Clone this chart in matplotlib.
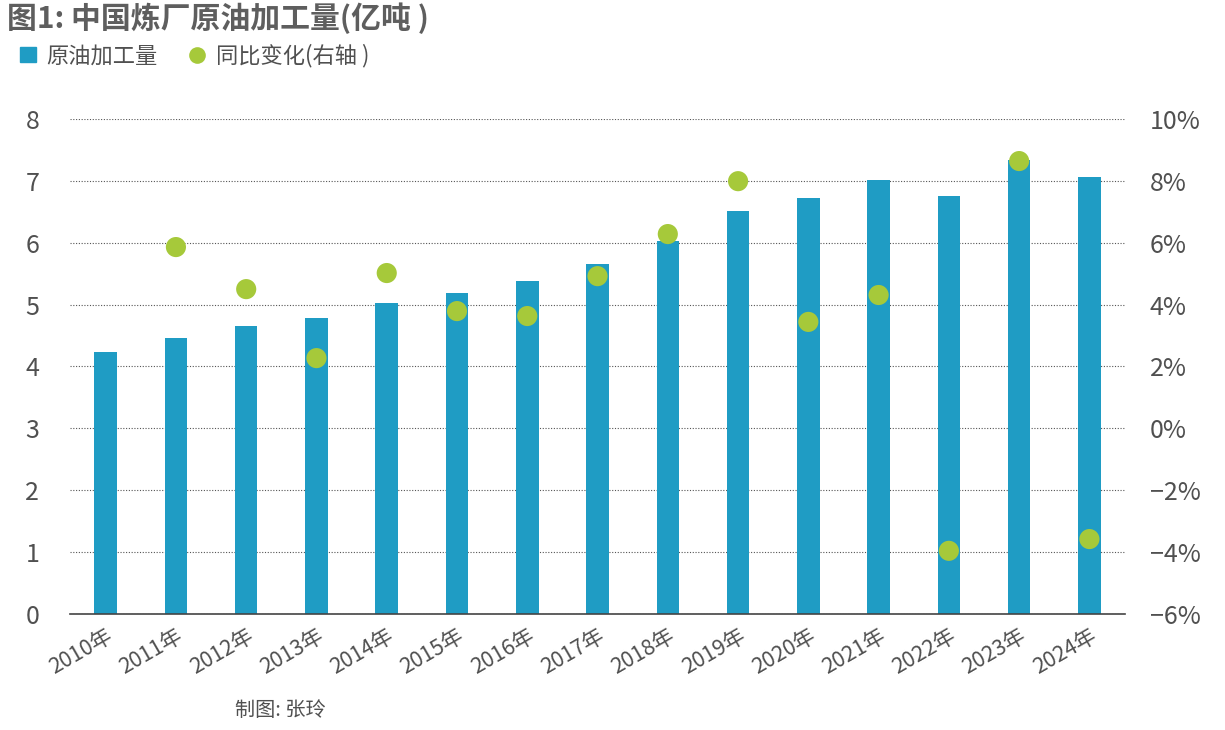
import numpy as np
import matplotlib.pyplot as plt
from matplotlib.lines import Line2D
from matplotlib.patches import Patch

plt.rcParams['font.family'] = ['Noto Sans CJK SC', 'DejaVu Sans']

years = ['2010年', '2011年', '2012年', '2013年', '2014年', '2015年', '2016年', '2017年',
         '2018年', '2019年', '2020年', '2021年', '2022年', '2023年', '2024年']
output = [4.23, 4.46, 4.65, 4.78, 5.02, 5.19, 5.38, 5.65,
          6.03, 6.51, 6.72, 7.01, 6.75, 7.34, 7.06]
# first year has no yoy point
yoy = [np.nan, 5.86, 4.50, 2.27, 5.02, 3.79, 3.63, 4.92,
       6.28, 7.99, 3.44, 4.31, -3.96, 8.64, -3.58]

bar_color = '#1f9cc4'
dot_color = '#a6c93a'
text_color = '#505050'

fig = plt.figure(figsize=(12.25, 7.3), dpi=100)
ax = fig.add_axes([0.057, 0.159, 0.861, 0.678])
ax2 = ax.twinx()

x = np.arange(len(years))
ax.bar(x, output, width=0.32, color=bar_color, zorder=2)
ax2.scatter(x, yoy, s=210, color=dot_color, zorder=3, edgecolors='none')

ax.set_xlim(-0.51, len(years) - 0.5)
ax.set_ylim(0, 8)
ax2.set_ylim(-6, 10)
ax.set_yticks(range(0, 9))
ax2.set_yticks(range(-6, 11, 2))
ax2.set_yticklabels([f'{v}%'.replace('-', '\u2212') for v in range(-6, 11, 2)])

ax.grid(axis='y', linestyle=(0, (1, 1.5)), color='#555555', linewidth=0.8, zorder=0)
ax.set_axisbelow(True)

for a in (ax, ax2):
    for s in a.spines.values():
        s.set_visible(False)
    a.tick_params(length=0, labelsize=18, colors=text_color)
ax.spines['bottom'].set_visible(True)
ax.spines['bottom'].set_color('#444444')
ax.spines['bottom'].set_linewidth(1.2)
ax.tick_params(axis='y', pad=22)
ax2.tick_params(axis='y', pad=18)

ax.set_xticks(x)
ax.set_xticklabels(years, rotation=30, ha='right', rotation_mode='anchor', fontsize=15.5)
ax.tick_params(axis='x', pad=8)
ax2.set_zorder(ax.get_zorder() + 1)
ax.patch.set_visible(False)

fig.text(0.006, 0.975, '图1: 中国炼厂原油加工量(亿吨 )', fontsize=21.5, fontweight='bold',
         color='#5e5e5e', va='center', ha='left')

handles = [Patch(color=bar_color, label='原油加工量'),
           Line2D([], [], marker='o', linestyle='none', markersize=12,
                  markerfacecolor=dot_color, markeredgecolor='none', label='同比变化(右轴 )')]
fig.legend(handles=handles, loc='center left', bbox_to_anchor=(0.0, 0.924), ncol=2,
           frameon=False, fontsize=16, handlelength=0.7, handleheight=0.7,
           handletextpad=0.5, columnspacing=1.4, labelcolor=text_color)

fig.text(0.192, 0.027, '制图: 张玲', fontsize=14.5, style='italic', color=text_color,
         va='center', ha='left')

fig.savefig('out.png', dpi=100)
